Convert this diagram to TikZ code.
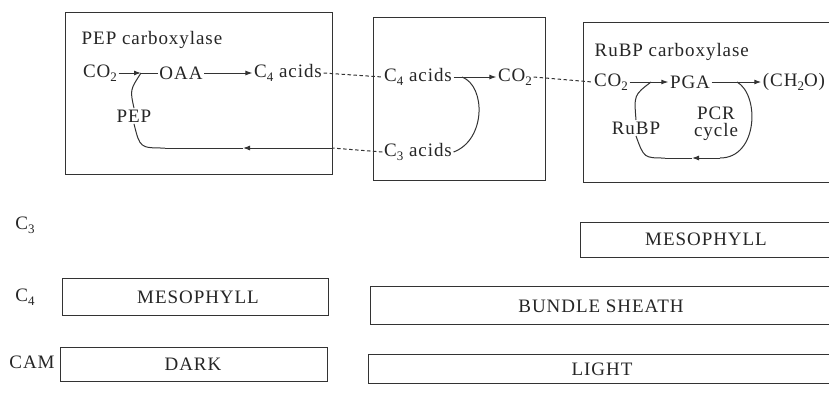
\documentclass[tikz,border=0pt]{standalone}
\usepackage{fontspec}
\setmainfont[LetterSpace=5]{Liberation Serif}
\usetikzlibrary{arrows.meta}
\newcommand{\sbs}[1]{\raisebox{-0.45ex}{\fontsize{13}{13}\selectfont #1}}
\begin{document}
\begin{tikzpicture}[x=1pt,y=-1pt,
  ink/.style={draw=black!80,line width=1pt},
  arr/.style={ink,-{Latex[length=7pt,width=5pt]}},
  dsh/.style={ink,dash pattern=on 3.5pt off 2.5pt},
  txt/.style={inner sep=1.5pt,text=black!85,font=\fontsize{19}{21}\selectfont},
  box/.style={ink}]
\clip (0,0) rectangle (829,392);
\fill[white] (0,0) rectangle (829,392);
% compartments
\draw[box] (65,12) rectangle (332,174);
\draw[box] (373,17) rectangle (545,180);
\draw[box] (583,22) rectangle (840,182);
% box 1
\node[txt,anchor=west] (t1) at (80,40) {PEP carboxylase};
\node[txt] (co2a) at (100,73) {CO\sbs{2}};
\node[txt] (oaa) at (181,73) {OAA};
\node[txt] (c4a) at (288,73) {C\sbs{4} acids};
\node[txt] (pep) at (134,116) {PEP};
\coordinate (j1) at (141,73);
\coordinate (e1) at (332,148);
\coordinate (k1) at (165,148);
% box 2
\node[txt] (c4b) at (418,77) {C\sbs{4} acids};
\node[txt] (co2b) at (515,77) {CO\sbs{2}};
\node[txt] (c3b) at (418,152) {C\sbs{3} acids};
\coordinate (j2) at (462,77);
% box 3
\node[txt,anchor=west] (t3) at (593,52) {RuBP carboxylase};
\node[txt] (co2c) at (611,82) {CO\sbs{2}};
\node[txt] (pga) at (690,82) {PGA};
\node[txt] (ch2o) at (794,82) {(CH\sbs{2}O)};
\node[txt] (rubp) at (636,128) {RuBP};
\node[txt] (pcr) at (716,113) {PCR};
\node[txt] (cyc) at (716,132) {cycle};
\coordinate (j3) at (651,82);
\coordinate (j4) at (737,82);
\coordinate (k3) at (720,158);
\coordinate (k4) at (665,158);
% connectors box 1
\draw[arr] (co2a.east) -- (j1);
\draw[ink] (j1) -- (oaa.west);
\draw[ink] (pep.north) .. controls (130,90) .. (j1);
\draw[arr] (oaa.east) -- (c4a.west);
\draw[dsh] (c4a.east) -- (c4b.west);
\draw[dsh] (c3b.west) -- (e1);
\draw[arr] (e1) -- (243,148);
\draw[ink] (243,148) -- (k1);
\draw[ink] (k1) .. controls (140,148) .. (pep.south);
% connectors box 2
\draw[arr] (c4b.east) -- (co2b.west);
\draw[ink] (j2) .. controls (486,86) and (486,140) .. (c3b.east);
\draw[dsh] (co2b.east) -- (co2c.west);
% connectors box 3
\draw[arr] (co2c.east) -- (pga.west);
\draw[ink] (rubp.north) .. controls (634,95) .. (j3);
\draw[arr] (pga.east) -- (ch2o.west);
\draw[ink] (j4) .. controls (760,95) and (758,158) .. (k3);
\draw[arr] (k3) -- (692,158);
\draw[ink] (692,158) -- (k4);
\draw[ink] (k4) .. controls (644,158) .. (rubp.south);
% lower rows
\node[txt] (lc3) at (25,225) {C\sbs{3}};
\node[txt] (lc4) at (25,297) {C\sbs{4}};
\node[txt] (lcam) at (32,362) {CAM};
\draw[box] (580,222) rectangle (840,257);
\node[txt] (m3) at (706,239) {MESOPHYLL};
\draw[box] (62,278) rectangle (328,315);
\node[txt] (m4) at (198,297) {MESOPHYLL};
\draw[box] (370,286) rectangle (840,324);
\node[txt] (bs) at (601,306) {BUNDLE SHEATH};
\draw[box] (60,347) rectangle (327,381);
\node[txt] (dk) at (193,364) {DARK};
\draw[box] (368,354) rectangle (840,383);
\node[txt] (lt) at (602,369) {LIGHT};
\end{tikzpicture}
\end{document}
